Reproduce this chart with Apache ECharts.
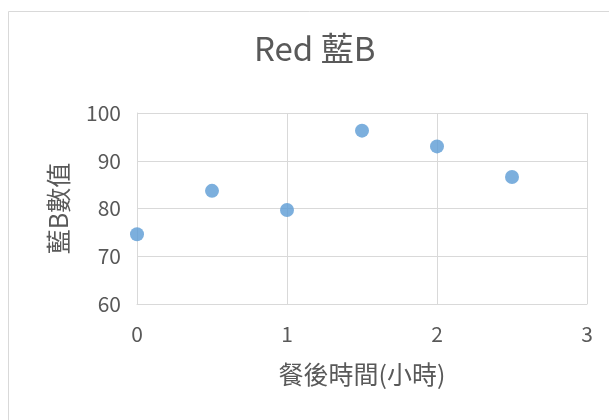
<!DOCTYPE html>
<html>
<head>
<meta charset="utf-8">
<script src="https://cdn.jsdelivr.net/npm/echarts@6/dist/echarts.min.js"></script>
<style>
  html, body { margin: 0; padding: 0; background: #fff; }
  #chart { width: 609px; height: 420px; }
</style>
</head>
<body>
<div id="chart"></div>
<script>
// Hours after meal and the measured blue-B values
const hours = [0, 0.5, 1, 1.5, 2, 2.5];
const blueB = [74.6, 83.7, 79.7, 96.3, 93.0, 86.6];

const titleText = 'Red 藍B';
const xName = '餐後時間(小時)';
const yName = '藍B數值';

const textColor = '#595959';
const gridColor = '#D9D9D9';
const cjkFont = '"Noto Sans CJK TC", "Noto Sans", sans-serif';

const points = hours.map((h, i) => [h, blueB[i]]);

const chart = echarts.init(document.getElementById('chart'), null, { renderer: 'canvas' });
chart.setOption({
  backgroundColor: '#fff',
  animation: false,
  graphic: [{
    type: 'rect',
    shape: { x: 8.5, y: 11.5, width: 640, height: 440 },
    style: { fill: 'none', stroke: gridColor, lineWidth: 1 },
    silent: true
  }],
  title: {
    text: titleText,
    left: 254,
    top: 32,
    padding: 0,
    textStyle: { fontFamily: cjkFont, fontSize: 33, fontWeight: 'normal', color: textColor }
  },
  grid: { left: 137, top: 113, width: 450, height: 191 },
  xAxis: {
    type: 'value',
    min: 0, max: 3, interval: 1,
    name: xName,
    nameLocation: 'middle',
    nameGap: 58,
    nameTextStyle: { fontFamily: cjkFont, fontSize: 25, color: textColor },
    axisLine: { show: true, lineStyle: { color: gridColor, width: 1 } },
    axisTick: { show: false },
    axisLabel: { margin: 20, fontFamily: cjkFont, fontSize: 21, color: textColor },
    splitLine: { show: true, lineStyle: { color: gridColor, width: 1 } }
  },
  yAxis: {
    type: 'value',
    min: 60, max: 100, interval: 10,
    name: yName,
    nameLocation: 'middle',
    nameGap: 66,
    nameTextStyle: { fontFamily: cjkFont, fontSize: 25, color: textColor },
    axisLine: { show: true, lineStyle: { color: gridColor, width: 1 } },
    axisTick: { show: false },
    axisLabel: { margin: 16, fontFamily: cjkFont, fontSize: 21, color: textColor },
    splitLine: { show: true, lineStyle: { color: gridColor, width: 1 } }
  },
  series: [{
    type: 'scatter',
    data: points,
    symbol: 'circle',
    symbolSize: 14,
    itemStyle: { color: '#5B9BD5' }
  }]
});
</script>
</body>
</html>
